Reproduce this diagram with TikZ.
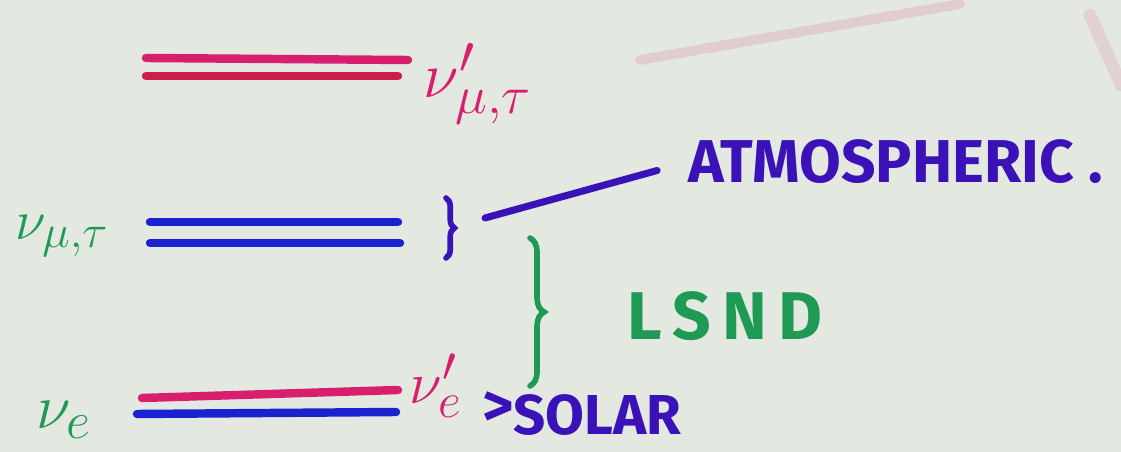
\documentclass[tikz,border=0pt]{standalone}
\usepackage{fontspec}
\setsansfont{Fira Sans}
\usetikzlibrary{decorations.pathreplacing}
\definecolor{board}{HTML}{E3E9E1}
\definecolor{pinkink}{HTML}{D81E6E}
\definecolor{redink}{HTML}{CC1F4A}
\definecolor{blueink}{HTML}{1A22D0}
\definecolor{violetink}{HTML}{3A12B8}
\definecolor{greenink}{HTML}{1F9A55}

\begin{document}
\begin{tikzpicture}[
  x=0.025cm, y=-0.025cm,
  level/.style={line width=6pt, line cap=round},
  hand/.style={inner sep=0pt, font=\sffamily\bfseries\fontsize{43}{43}\selectfont},
  flav/.style={inner sep=0pt, font=\Huge, scale=#1, transform shape},
  curly/.style={decorate, decoration={brace, amplitude=#1},
                line width=4pt, line cap=round},
]
\fill[board] (0,0) rectangle (1121,452);
\useasboundingbox (0,0) rectangle (1121,452);
\draw[pinkink!14!board, line width=7pt, line cap=round] (640,60) -- (960,4);
\draw[pinkink!12!board, line width=9pt, line cap=round] (1090,15) -- (1121,85);

\coordinate (topA) at (146,58);   \coordinate (topB) at (408,60);
\coordinate (topC) at (146,76);   \coordinate (topD) at (398,76);
\coordinate (midA) at (150,222);  \coordinate (midB) at (398,222);
\coordinate (midC) at (150,243);  \coordinate (midD) at (400,243);
\coordinate (lowA) at (142,398);  \coordinate (lowB) at (398,390);
\coordinate (lowC) at (137,414);  \coordinate (lowD) at (396,412);

\draw[level, pinkink] (topA) -- (topB);
\draw[level, redink] (topC) -- (topD);
\draw[level, blueink] (midA) -- (midB);
\draw[level, blueink] (midC) -- (midD);
\draw[level, pinkink] (lowA) -- (lowB);
\draw[level, blueink] (lowC) -- (lowD);

\node[flav=1.85, pinkink] (nuMuTauP) at (478,84) {$\nu'_{\mu,\tau}$};
\node[flav=1.6, greenink] (nuMuTau) at (62,236) {$\nu_{\mu,\tau}$};
\node[flav=1.8, greenink] (nuE) at (64,420) {$\nu_e$};
\node[flav=1.7, pinkink] (nuEP) at (436,386) {$\nu'_e$};

\coordinate (atmTop) at (446,198);
\coordinate (atmBot) at (446,258);
\draw[curly=6pt, violetink] (atmTop) -- (atmBot);
\coordinate (atmTip) at (485,218);
\node[hand, violetink, anchor=west] (atm) at (688,162) {ATMOSPHERIC .};
\draw[violetink, line width=5pt, line cap=round, shorten >=0.8cm]
  (atmTip) -- (atm.west);

\coordinate (lsndTop) at (530,238);
\coordinate (lsndBot) at (530,386);
\draw[curly=10pt, greenink] (lsndTop) -- (lsndBot);
\node[hand, greenink, font=\sffamily\bfseries\fontsize{48}{48}\selectfont]
  (lsnd) at (725,316) {L\,S\,N\,D};

\node[hand, violetink, anchor=west] (solar) at (482,414)
  {\raisebox{0.25ex}{>}\fontsize{40}{40}\selectfont SOLAR};
\end{tikzpicture}
\end{document}
